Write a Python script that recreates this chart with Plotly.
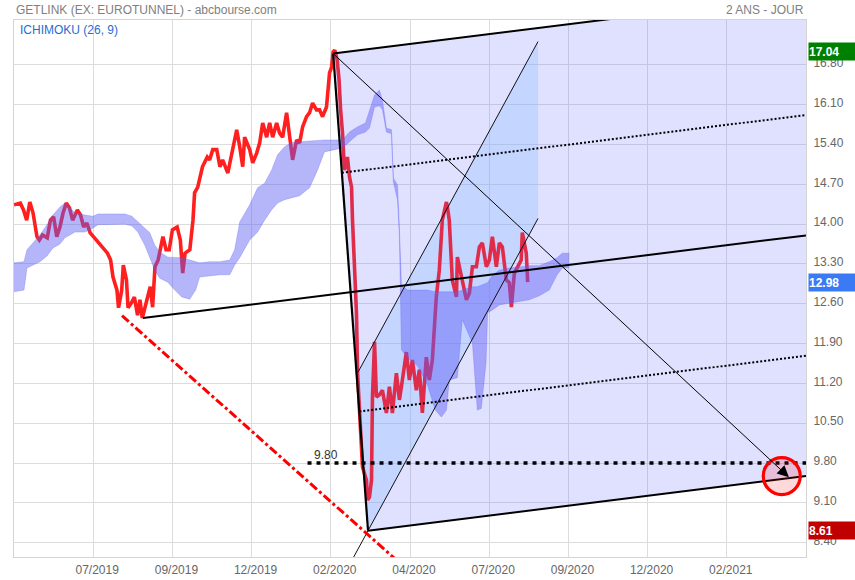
import plotly.graph_objects as go

# ---------------- data (trading-day index on x, price on y) ----------------
price_day = [0, 4, 6, 8, 10, 12, 14.5, 16, 18, 21,
             23, 25, 27, 29, 31, 33, 35, 37, 40, 42,
             44, 46, 48, 52, 56, 59, 61, 62.5, 65, 66,
             68, 69, 71, 72, 74, 76, 78, 79.5, 81, 84,
             86, 87.5, 89, 91, 93, 94, 96, 98, 100, 103,
             105, 106.5, 108, 111, 113, 114, 116, 119, 122, 123.5,
             125.5, 128, 130, 131.7, 135, 138, 140.6, 142.5, 144.4, 145.6,
             148.8, 150.7, 153.2, 155.1, 157, 159.5, 161.4, 163.3, 165.8, 167.7,
             169.6, 172.1, 174, 175.9, 178.4, 180.3, 182.2, 184.7, 186.6, 188.5,
             191, 192.9, 194.8, 197.3, 199.2, 200.5, 201.5, 202.5, 204, 205.2,
             206.2, 207.4, 208.6, 210.5, 211.8, 213.1, 213.7, 215, 216.2, 216.9,
             218.1, 220, 222.5, 223.2, 224.4, 225.7, 226.3, 227.6, 228.8, 230.7,
             232.6, 235.1, 237, 238.9, 241.4, 243.3, 245.2, 247.7, 249.6, 251.5,
             254, 255.9, 257.8, 260.3, 262.2, 264.1, 266.6, 268.5, 270.4, 273,
             273.6, 274.8, 276.7, 279.3, 279.9, 281.2, 283, 285.6, 287.5, 289.4,
             291.9, 293.8, 295.7, 298.2, 300.1, 302, 304.5, 306.4, 308.3, 310.8,
             312.7, 314, 315.9, 317.7, 320.2, 320.9, 323.4, 324.3]
price_close = [14.34, 14.37, 14.25, 14.07, 14.39, 14.20, 13.78, 13.72, 13.81, 13.76,
               14.07, 14.13, 13.78, 13.95, 14.20, 14.37, 14.29, 14.07, 14.25, 14.16,
               13.95, 14.02, 13.85, 13.72, 13.58, 13.49, 13.37, 13.07, 12.84, 12.53,
               12.84, 13.28, 13.02, 12.53, 12.61, 12.72, 12.40, 12.67, 12.35, 12.72,
               12.90, 12.54, 13.25, 13.37, 13.60, 13.78, 13.55, 13.55, 13.90, 13.95,
               13.72, 13.14, 13.49, 13.55, 14.07, 14.55, 14.65, 15.01, 15.18, 15.13,
               15.31, 15.31, 15.01, 15.13, 14.90, 15.31, 15.66, 15.36, 15.01, 15.53,
               15.31, 15.08, 15.25, 15.43, 15.78, 15.53, 15.78, 15.53, 15.78, 15.60,
               15.53, 15.96, 15.48, 15.13, 15.48, 15.43, 15.71, 15.89, 15.96, 16.13,
               16.01, 16.01, 15.89, 16.06, 16.66, 16.76, 17.03, 17.06, 16.89, 16.54,
               16.01, 15.60, 14.95, 15.18, 14.83, 14.65, 14.07, 13.25, 12.44, 11.38,
               10.68, 9.73, 9.50, 9.15, 9.20, 9.50, 10.96, 11.93, 10.96, 11.00,
               11.08, 10.68, 11.14, 10.68, 11.38, 10.91, 11.26, 11.75, 11.26, 11.61,
               11.08, 11.44, 10.68, 11.66, 11.26, 11.61, 12.72, 13.19, 14.07, 14.39,
               14.30, 14.07, 13.02, 12.72, 13.42, 13.25, 13.02, 12.67, 12.79, 13.25,
               13.25, 13.60, 13.67, 13.25, 13.37, 13.78, 13.25, 13.67, 13.60, 13.02,
               12.97, 12.54, 13.14, 13.25, 13.37, 13.85, 13.49, 12.98]

# Ichimoku cloud (spans shifted 26 days ahead)
cloud_day = [0, 6.3, 8.2, 12.0, 16.4, 20.8, 24.6, 29.0, 32.1, 35.3,
             38.5, 44.8, 49.8, 53.0, 60.5, 70.0, 74.4, 78.2, 82.6, 85.7,
             88.9, 92.0, 97.1, 101.5, 105.9, 110.9, 114.7, 117.2, 123.5, 129.9,
             136.2, 139.3, 142.5, 148.8, 153.8, 158.2, 162.6, 166.4, 170.8, 175.2,
             180.3, 186.6, 191.6, 196.0, 202.3, 207.4, 211.8, 216.8, 221.9, 224.4,
             227.6, 230.7, 232.6, 235.1, 238.3, 239.5, 242.1, 243.3, 244.6, 248.4,
             254.7, 261.0, 266.0, 269.8, 273.0, 274.8, 279.9, 283.0, 289.4, 292.5,
             295.0, 298.0, 299.0, 302.0, 306.4, 312.7, 319.0, 325.3, 331.6, 337.9,
             342.9, 346.1, 350.5]
cloud_top = [13.32, 13.34, 13.55, 13.67, 13.81, 13.99, 14.16, 14.30, 14.37, 14.29,
             14.20, 14.16, 14.14, 14.18, 14.18, 14.18, 14.14, 14.04, 13.93, 13.85,
             13.63, 13.51, 13.42, 13.41, 13.41, 13.37, 13.34, 13.32, 13.34, 13.34,
             13.37, 13.55, 14.04, 14.34, 14.64, 14.72, 14.95, 15.22, 15.36, 15.43,
             15.45, 15.46, 15.48, 15.48, 15.48, 15.48, 15.62, 15.71, 15.78, 16.01,
             16.27, 16.36, 16.18, 15.69, 15.66, 14.81, 14.69, 13.93, 12.93, 12.84,
             12.84, 12.84, 12.81, 12.81, 12.81, 12.81, 12.81, 12.84, 12.90, 12.90,
             12.93, 12.97, 12.97, 13.10, 13.19, 13.23, 13.25, 13.27, 13.27, 13.34,
             13.41, 13.49, 13.49]
cloud_bottom = [12.81, 12.84, 13.23, 13.28, 13.34, 13.44, 13.58, 13.65, 13.76, 13.81,
                13.86, 13.86, 13.93, 13.99, 14.00, 14.00, 13.97, 13.86, 13.63, 13.41,
                13.19, 13.05, 12.98, 12.84, 12.72, 12.68, 12.84, 13.07, 13.09, 13.11,
                13.11, 13.28, 13.41, 13.72, 13.86, 14.07, 14.25, 14.37, 14.43, 14.46,
                14.50, 14.64, 14.95, 15.27, 15.31, 15.34, 15.45, 15.57, 15.62, 15.69,
                16.06, 16.08, 16.01, 15.62, 15.59, 14.74, 14.43, 13.81, 11.79, 11.65,
                11.51, 11.17, 10.73, 10.61, 10.73, 11.26, 11.30, 12.32, 11.91, 10.73,
                10.76, 11.56, 12.44, 12.49, 12.58, 12.61, 12.63, 12.67, 12.74, 12.84,
                13.11, 13.23, 13.23]

x_grid_days = [50, 100, 150, 200, 250, 300, 350, 400, 450]
x_tick_labels = ["07/2019", "09/2019", "12/2019", "02/2020", "04/2020",
                 "07/2020", "09/2020", "12/2020", "02/2021"]
y_tick_values = [8.40, 9.10, 9.80, 10.50, 11.20, 11.90, 12.60, 13.30,
                 14.00, 14.70, 15.40, 16.10, 16.80]

# Andrews pitchfork pivots
pivot_day = [81.4, 201.5, 223.5]
pivot_price = [12.35, 17.00, 8.61]

# parallel channel drawn from the March low
channel_day = [223.5, 330.8]
channel_base = [8.61, 14.10]
channel_top_start_day = 217.2
channel_width = 3.11

# red dash-dot trend line
dashdot_day = [68.2, 250.0]
dashdot_price = [12.39, 7.88]

# horizontal target level
level_value = 9.80
level_start_day = 185.3

# arrow target
arrow_end_day = 489.2
arrow_end_price = 9.55
circle_day = 484.7
circle_price = 9.57

last_close = 12.98
high_price = 17.04
low_price = 8.61

X_MIN, X_MAX = 0, 500
Y_MIN, Y_MAX = 8.147, 17.59
PLOT_W, PLOT_H = 792, 537
X_LABEL_SHIFT = 4 * (X_MAX - X_MIN) / PLOT_W      # labels sit 4 px right of gridlines
Y_LABEL_SHIFT = 2 * (Y_MAX - Y_MIN) / PLOT_H      # labels sit 2 px above gridlines

# ---------------- figure ----------------
fig = go.Figure()

cs = (channel_base[1] - channel_base[0]) / (channel_day[1] - channel_day[0])


def base(x):
    return channel_base[0] + cs * (x - channel_day[0])


fig.add_trace(go.Scatter(
    x=[channel_top_start_day, channel_day[1], channel_day[1], channel_day[0], channel_top_start_day],
    y=[base(channel_top_start_day) + channel_width, base(channel_day[1]) + channel_width,
       base(channel_day[1]), base(channel_day[0]), base(channel_top_start_day) + channel_width],
    mode="lines", fill="toself", fillcolor="rgba(150,215,255,0.32)",
    line=dict(width=0), hoverinfo="skip"))

fig.add_trace(go.Scatter(x=price_day, y=price_close, mode="lines",
                         line=dict(color="#ff1f1f", width=3.6), hoverinfo="skip"))

fig.add_trace(go.Scatter(x=cloud_day, y=cloud_bottom, mode="lines",
                         line=dict(color="rgba(90,90,245,0.35)", width=0.8), hoverinfo="skip"))
fig.add_trace(go.Scatter(x=cloud_day, y=cloud_top, mode="lines", fill="tonexty",
                         fillcolor="rgba(90,90,245,0.45)",
                         line=dict(color="rgba(90,90,245,0.35)", width=0.8), hoverinfo="skip"))

p1x, p2x, p3x = pivot_day
p1y, p2y, p3y = pivot_price
mx, my = (p2x + p3x) / 2, (p2y + p3y) / 2
slope = (my - p1y) / (mx - p1x)


def along(x0, y0, x):
    return y0 + slope * (x - x0)


fig.add_trace(go.Scatter(
    x=[p2x, X_MAX, X_MAX, p3x, p2x],
    y=[p2y, along(p2x, p2y, X_MAX), along(p3x, p3y, X_MAX), p3y, p2y],
    mode="lines", fill="toself", fillcolor="rgba(100,100,255,0.2)",
    line=dict(width=0), hoverinfo="skip"))

xs0 = channel_day[0] - 12
fig.add_trace(go.Scatter(x=[xs0, channel_day[1]], y=[base(xs0), base(channel_day[1])],
                         mode="lines", line=dict(color="#111", width=1), hoverinfo="skip"))
fig.add_trace(go.Scatter(x=[channel_top_start_day, channel_day[1]],
                         y=[base(channel_top_start_day) + channel_width,
                            base(channel_day[1]) + channel_width],
                         mode="lines", line=dict(color="#111", width=1), hoverinfo="skip"))

for x0, y0 in [(p1x, p1y), (p2x, p2y), (p3x, p3y)]:
    fig.add_trace(go.Scatter(x=[x0, X_MAX], y=[y0, along(x0, y0, X_MAX)], mode="lines",
                             line=dict(color="black", width=2), hoverinfo="skip"))
fig.add_trace(go.Scatter(x=[p2x, p3x], y=[p2y, p3y], mode="lines",
                         line=dict(color="black", width=2.2), hoverinfo="skip"))
for t in (0.25, 0.75):
    wx = p2x + t * (p3x - p2x)
    wy = p2y + t * (p3y - p2y)
    fig.add_trace(go.Scatter(x=[wx, X_MAX], y=[wy, along(wx, wy, X_MAX)], mode="lines",
                             line=dict(color="black", width=2, dash="2px,2px"), hoverinfo="skip"))

fig.add_trace(go.Scatter(x=dashdot_day, y=dashdot_price, mode="lines",
                         line=dict(color="#ff0000", width=3, dash="dashdot"), hoverinfo="skip"))

fig.add_trace(go.Scatter(x=[level_start_day, X_MAX], y=[level_value, level_value], mode="lines",
                         line=dict(color="black", width=3.5, dash="4px,5px"), hoverinfo="skip"))

fig.add_annotation(x=level_start_day, y=level_value, xref="x", yref="y", text="9.80",
                   showarrow=False, xanchor="left", yanchor="bottom", xshift=4, yshift=-1,
                   font=dict(size=12, color="#333"))

fig.add_annotation(x=arrow_end_day, y=arrow_end_price, ax=p2x, ay=p2y, xref="x", yref="y",
                   axref="x", ayref="y", text="", showarrow=True, arrowhead=2, arrowsize=2.3,
                   arrowwidth=1, arrowcolor="black", standoff=0, startstandoff=0)

fig.add_shape(type="circle", xref="x", yref="y", xsizemode="pixel", ysizemode="pixel",
              xanchor=circle_day, yanchor=circle_price, x0=-18.5, x1=18.5, y0=-18.5, y1=18.5,
              line=dict(color="#ff0000", width=3.2), fillcolor="rgba(255,0,0,0.15)", layer="above")

for val, col in [(high_price, "#008000"), (last_close, "#3a7bf5"), (low_price, "#c00000")]:
    fig.add_annotation(x=1, y=val, xref="paper", yref="y", xanchor="left", yanchor="middle",
                       xshift=2, text=f"<b>{val:.2f}</b>", showarrow=False, align="left",
                       bgcolor=col, width=47, height=17, borderpad=0,
                       font=dict(size=12, color="white"))

fig.add_annotation(x=0, y=1, xref="paper", yref="paper", xanchor="left", yanchor="bottom",
                   yshift=1, text="GETLINK (EX: EUROTUNNEL) - abcbourse.com", showarrow=False,
                   font=dict(size=12, color="#808080"))
fig.add_annotation(x=1, y=1, xref="paper", yref="paper", xanchor="right", yanchor="bottom",
                   yshift=1, xshift=0, text="2 ANS - JOUR", showarrow=False,
                   font=dict(size=12, color="#808080"))
fig.add_annotation(x=0, y=1, xref="paper", yref="paper", xanchor="left", yanchor="top",
                   xshift=4, yshift=-1, text="ICHIMOKU (26, 9)", showarrow=False,
                   font=dict(size=12, color="#1f6fd1"))

fig.update_layout(
    width=855, height=580,
    margin=dict(l=14, r=49, t=20, b=23, autoexpand=False),
    paper_bgcolor="white", plot_bgcolor="white",
    showlegend=False,
    font=dict(family="Liberation Sans, Arial, sans-serif", size=12, color="#666"),
    xaxis=dict(range=[X_MIN, X_MAX], automargin=False,
               tickvals=[d + X_LABEL_SHIFT for d in x_grid_days], ticktext=x_tick_labels,
               showgrid=False, zeroline=False,
               minor=dict(tickmode="array", tickvals=x_grid_days, showgrid=True,
                          gridcolor="#dcdcdc", gridwidth=1, ticks=""),
               showline=True, linecolor="#d4d4d4", linewidth=1, mirror=True,
               ticks="", ticklabelstandoff=2,
               tickfont=dict(size=12, color="#666")),
    yaxis=dict(range=[Y_MIN, Y_MAX], side="right", automargin=False,
               tickvals=[v + Y_LABEL_SHIFT for v in y_tick_values],
               ticktext=[f"{v:.2f}" for v in y_tick_values],
               showgrid=False, zeroline=False,
               minor=dict(tickmode="array", tickvals=y_tick_values, showgrid=True,
                          gridcolor="#dcdcdc", gridwidth=1, ticks=""),
               showline=True, linecolor="#d4d4d4", linewidth=1, mirror=True,
               ticks="", ticklabelstandoff=4,
               tickfont=dict(size=12, color="#666")),
)

fig.write_html("out.html", config={"displayModeBar": False},
               post_script="document.body.style.margin='0';document.body.style.overflow='hidden';")
